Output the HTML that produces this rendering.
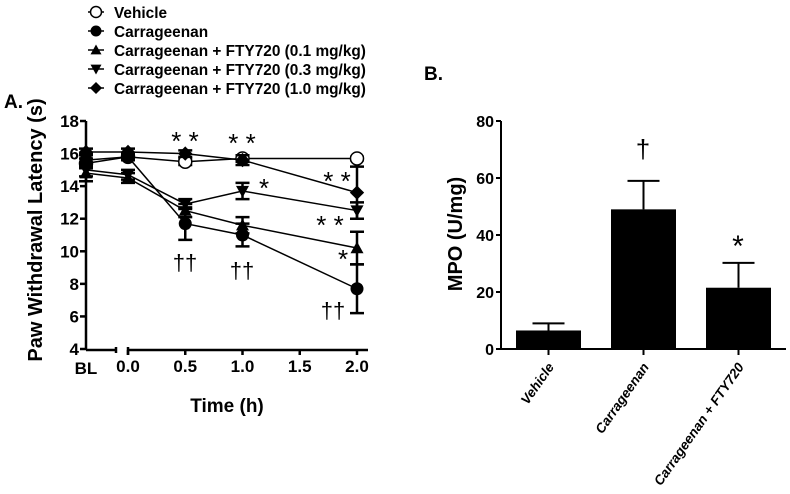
<!DOCTYPE html>
<html><head><meta charset="utf-8"><style>
body{margin:0;background:#fff}
svg{display:block;font-family:"Liberation Sans",Arial,sans-serif;font-weight:bold}
</style></head><body>
<svg id="c" width="790" height="494" viewBox="0 0 790 494"></svg>
<script>
const times=["BL",0,0.5,1,2];
const seriesNames=["Vehicle","Carrageenan","Carrageenan + FTY720 (0.1 mg/kg)","Carrageenan + FTY720 (0.3 mg/kg)","Carrageenan + FTY720 (1.0 mg/kg)"];
const vehicleVals=[15.4,15.8,15.5,15.7,15.7];
const vehicleErr=[0.3,0.2,0.2,0.2,0.1];
const carrVals=[15.6,15.8,11.7,11.0,7.7];
const carrErr=[0.4,0.2,1.0,0.7,1.5];
const fty01Vals=[14.8,14.5,12.5,11.6,10.2];
const fty01Err=[0.5,0.3,0.4,0.5,1.0];
const fty03Vals=[15.0,14.7,12.9,13.7,12.5];
const fty03Err=[0.4,0.3,0.3,0.5,0.5];
const fty10Vals=[16.1,16.1,16.0,15.6,13.6];
const fty10Err=[0.2,0.2,0.2,0.3,1.6];
const yTicksA=[4,6,8,10,12,14,16,18];
const xTicksA=["0.0","0.5","1.0","1.5","2.0"];
const barCats=["Vehicle","Carrageenan","Carrageenan + FTY720"];
const barVals=[6.5,49,21.5];
const barErr=[2.5,10,8.7];
const yTicksB=[0,20,40,60,80];

const NS="http://www.w3.org/2000/svg";
const svg=document.getElementById('c');
function mk(tag,attrs,parent,text){const e=document.createElementNS(NS,tag);for(const k in attrs)e.setAttribute(k,attrs[k]);if(text!==undefined)e.textContent=text;(parent||svg).appendChild(e);return e;}

const yA=v=>349-(v-4)*(228/14);
const xA=t=>t==="BL"?86:128+t*114.5;

const gA=mk('g',{});


let t=mk('text',{x:4,y:108,'font-size':19},gA,'A.');


let ax=mk('g',{stroke:'#000','stroke-width':2.5},gA);

mk('line',{x1:86,y1:yA(18),x2:86,y2:350},ax);
mk('line',{x1:86,y1:350,x2:116,y2:350},ax);
mk('line',{x1:116,y1:347,x2:116,y2:353},ax);
mk('line',{x1:128,y1:350,x2:368,y2:350},ax);
mk('line',{x1:128,y1:347,x2:128,y2:355},ax);
yTicksA.forEach(v=>{mk('line',{x1:80,y1:yA(v),x2:86,y2:yA(v)},ax);
 const l=mk('text',{x:79,y:yA(v)+6,'font-size':17,'text-anchor':'end',stroke:'none'},gA,v);
 });
xTicksA.forEach(s=>{const x=xA(parseFloat(s));mk('line',{x1:x,y1:350,x2:x,y2:355},ax);
 const l=mk('text',{x:x,y:372,'font-size':17,'text-anchor':'middle'},gA,s);
 });
let bl=mk('text',{x:86,y:374,'font-size':17,'text-anchor':'middle'},gA,'BL');

let xt=mk('text',{x:227,y:412,'font-size':19,'text-anchor':'middle'},gA,'Time (h)');

let yt=mk('text',{x:0,y:0,'font-size':20,'text-anchor':'middle',transform:'translate(42,230) rotate(-90)'},gA,'Paw Withdrawal Latency (s)');


function marker(kind,x,y,p,r){
 r=r||6.5;
 if(kind==='open')return mk('circle',{cx:x,cy:y,r:r,fill:'#fff',stroke:'#000','stroke-width':1.5},p);
 if(kind==='circle')return mk('circle',{cx:x,cy:y,r:r,fill:'#000'},p);
 if(kind==='up')return mk('polygon',{points:`${x},${y-r} ${x+r},${y+r*0.8} ${x-r},${y+r*0.8}`,fill:'#000'},p);
 if(kind==='down')return mk('polygon',{points:`${x},${y+r} ${x+r},${y-r*0.8} ${x-r},${y-r*0.8}`,fill:'#000'},p);
 if(kind==='diamond')return mk('polygon',{points:`${x},${y-r*1.1} ${x+r*1.1},${y} ${x},${y+r*1.1} ${x-r*1.1},${y}`,fill:'#000'},p);
}
const series=[
 {n:'vehicle',k:'open',v:vehicleVals,e:vehicleErr},
 {n:'carrageenan',k:'circle',v:carrVals,e:carrErr},
 {n:'fty-0-1',k:'up',v:fty01Vals,e:fty01Err},
 {n:'fty-0-3',k:'down',v:fty03Vals,e:fty03Err},
 {n:'fty-1-0',k:'diamond',v:fty10Vals,e:fty10Err}];
series.forEach(s=>{
 const g=mk('g',{},gA);
 
 const pts=times.map((tt,i)=>xA(tt)+','+yA(s.v[i])).join(' ');
 const ln=mk('polyline',{points:pts,fill:'none',stroke:'#000','stroke-width':1.5},g);
 
 times.forEach((tt,i)=>{
  const x=xA(tt),y1=yA(s.v[i]+s.e[i]),y2=yA(s.v[i]-s.e[i]);
  const eb=mk('path',{d:`M${x},${y1}V${y2}M${x-7},${y1}H${x+7}M${x-7},${y2}H${x+7}`,stroke:'#000','stroke-width':2.5,fill:'none'},g);
  
  const m=marker(s.k,x,yA(s.v[i]),g);
  
 });
});
const ann=[['* *',185,150],['* *',242,152],['*',264,197],['* *',337,190],['* *',330,234],['*',343,268],['††',185,270],['††',242,278],['††',333,318]];
ann.forEach(a=>{const isD=a[0].includes('†');const e=mk('text',{x:a[1],y:a[2],'font-size':isD?22:26,'text-anchor':'middle','font-weight':'normal'},gA,a[0]);
 });

const lg=mk('g',{},svg);

const legY=[12,31,50,69,88];
series.forEach((s,i)=>{
 const g=mk('g',{},lg);
 
 mk('line',{x1:88,y1:legY[i],x2:104,y2:legY[i],stroke:'#000','stroke-width':1.5},g);
 marker(s.k,96,legY[i],g,5.5);
 mk('text',{x:114,y:legY[i]+6,'font-size':15.4},g,seriesNames[i]);
});

const yB=v=>349-v*(228/80);
const bx=[516,611,706],bw=65;
const gB=mk('g',{});

let bL=mk('text',{x:424,y:80,'font-size':19},gB,'B.');

const axB=mk('g',{stroke:'#000','stroke-width':2},gB);

mk('line',{x1:501,y1:yB(80),x2:501,y2:350},axB);
mk('line',{x1:497,y1:349,x2:786,y2:349},axB);
yTicksB.forEach(v=>{mk('line',{x1:496,y1:yB(v),x2:501,y2:yB(v)},axB);
 const l=mk('text',{x:494,y:yB(v)+6,'font-size':16,'text-anchor':'end'},gB,v);
 });
let ytb=mk('text',{x:0,y:0,'font-size':20,'text-anchor':'middle',transform:'translate(462,234) rotate(-90)'},gB,'MPO (U/mg)');

barCats.forEach((c,i)=>{
 const x=bx[i],cx=x+bw/2;
 const eb=mk('path',{d:`M${cx},${yB(barVals[i])}V${yB(barVals[i]+barErr[i])}M${cx-16},${yB(barVals[i]+barErr[i])}H${cx+16}`,stroke:'#000','stroke-width':2,fill:'none'},gB);
 
 const r=mk('rect',{x:x,y:yB(barVals[i]),width:bw,height:349-yB(barVals[i]),fill:'#000'},gB);
 
 mk('line',{x1:cx,y1:349,x2:cx,y2:355,stroke:'#000','stroke-width':2},gB);
 const l=mk('text',{x:0,y:0,'font-size':13.5,'font-style':'italic','text-anchor':'end',transform:`translate(${cx+6},367) rotate(-55)`},gB,c);
 
});
let d1=mk('text',{x:643,y:158,'font-size':26,'text-anchor':'middle','font-weight':'normal'},gB,'†');

let d2=mk('text',{x:738,y:256,'font-size':30,'text-anchor':'middle','font-weight':'normal'},gB,'*');

</script>
</body></html>
